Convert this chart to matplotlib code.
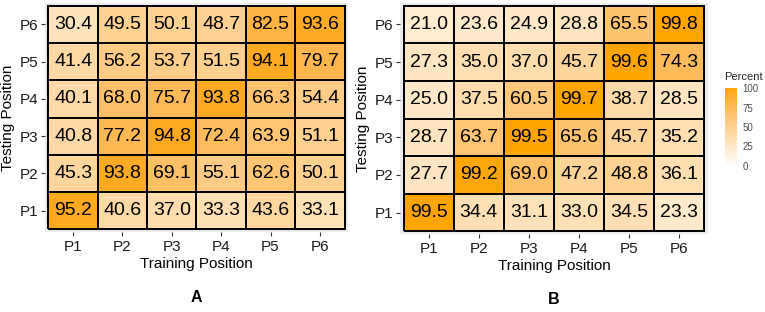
import numpy as np
import matplotlib
matplotlib.use("Agg")
from matplotlib import pyplot as plt
from matplotlib.colors import ListedColormap

plt.rcParams["font.family"] = ["Liberation Sans", "DejaVu Sans"]

positions = ["P1", "P2", "P3", "P4", "P5", "P6"]

# rows = testing position P1..P6, columns = training position P1..P6
acc_a = np.array([
    [95.2, 40.6, 37.0, 33.3, 43.6, 33.1],
    [45.3, 93.8, 69.1, 55.1, 62.6, 50.1],
    [40.8, 77.2, 94.8, 72.4, 63.9, 51.1],
    [40.1, 68.0, 75.7, 93.8, 66.3, 54.4],
    [41.4, 56.2, 53.7, 51.5, 94.1, 79.7],
    [30.4, 49.5, 50.1, 48.7, 82.5, 93.6],
])
acc_b = np.array([
    [99.5, 34.4, 31.1, 33.0, 34.5, 23.3],
    [27.7, 99.2, 69.0, 47.2, 48.8, 36.1],
    [28.7, 63.7, 99.5, 65.6, 45.7, 35.2],
    [25.0, 37.5, 60.5, 99.7, 38.7, 28.5],
    [27.3, 35.0, 37.0, 45.7, 99.6, 74.3],
    [21.0, 23.6, 24.9, 28.8, 65.5, 99.8],
])
cbar_ticks = [0, 25, 50, 75, 100]


# white -> orange gradient interpolated in Lab space, like ggplot does
M = np.array([[0.4124, 0.3576, 0.1805],
              [0.2126, 0.7152, 0.0722],
              [0.0193, 0.1192, 0.9505]])
WP = np.array([0.95047, 1.0, 1.08883])


def to_lab(rgb):
    c = np.where(rgb > 0.04045, ((rgb + 0.055) / 1.055) ** 2.4, rgb / 12.92)
    xyz = M @ c / WP
    f = np.where(xyz > 0.008856, np.cbrt(xyz), 7.787 * xyz + 16 / 116)
    return np.array([116 * f[1] - 16, 500 * (f[0] - f[1]), 200 * (f[1] - f[2])])


def from_lab(lab):
    fy = (lab[0] + 16) / 116
    fx = fy + lab[1] / 500
    fz = fy - lab[2] / 200
    f = np.array([fx, fy, fz])
    xyz = np.where(f ** 3 > 0.008856, f ** 3, (f - 16 / 116) / 7.787) * WP
    c = np.linalg.solve(M, xyz)
    rgb = np.where(c > 0.0031308, 1.055 * np.clip(c, 0, None) ** (1 / 2.4) - 0.055, 12.92 * c)
    return np.clip(rgb, 0, 1)


lo = to_lab(np.array([1.0, 1.0, 1.0]))
hi = to_lab(np.array([1.0, 165 / 255, 0.0]))
cmap = ListedColormap([from_lab(lo + (hi - lo) * t) for t in np.linspace(0, 1, 256)])

fig = plt.figure(figsize=(7.65, 3.12), dpi=100)
W, H = 765, 312


def px_axes(x0, y0, x1, y1):
    return fig.add_axes([x0 / W, 1 - y1 / H, (x1 - x0) / W, (y1 - y0) / H])


def heat(ax, data, letter):
    ax.set_facecolor("#EBEBEB")
    n = len(positions)
    ax.pcolormesh(np.arange(n + 1), np.arange(n + 1), data, cmap=cmap,
                  vmin=0, vmax=100, edgecolors="black", linewidth=1.3)
    for i in range(n):
        for j in range(n):
            ax.text(j + 0.5, i + 0.5, "%.1f" % data[i, j], ha="center",
                    va="center", fontsize=14, color="black")
    pad = 0.07
    ax.set_xlim(-pad, n + pad)
    ax.set_ylim(-pad, n + pad)
    ax.set_xticks(np.arange(n) + 0.5)
    ax.set_yticks(np.arange(n) + 0.5)
    ax.set_xticklabels(positions)
    ax.set_yticklabels(positions)
    ax.tick_params(length=3, width=0.8, color="#333333", labelsize=11,
                   labelcolor="#1a1a1a", pad=2)
    ax.tick_params(axis="x", pad=3)
    for s in ax.spines.values():
        s.set_visible(False)
    ax.set_xlabel("Training Position", fontsize=11, labelpad=2)
    ax.set_ylabel("Testing Position", fontsize=11, labelpad=3)
    ax.text(0.5, -0.285, letter, transform=ax.transAxes, ha="center",
            va="center", fontsize=11.5, fontweight="bold")


ax_a = px_axes(45, 3, 348, 232)
heat(ax_a, acc_a, "A")
ax_b = px_axes(400, 3, 708, 234)
heat(ax_b, acc_b, "B")

cax = px_axes(725, 88, 737, 166)
grad = np.linspace(0, 100, 256).reshape(-1, 1)
cax.imshow(grad, cmap=cmap, aspect="auto", origin="lower", extent=[0, 1, 0, 100])
cax.set_xticks([])
cax.yaxis.tick_right()
cax.set_yticks(cbar_ticks)
cax.tick_params(length=0, labelsize=7, labelcolor="#4D4D4D", pad=4)
for s in cax.spines.values():
    s.set_visible(False)
fig.text(724 / W, 1 - 77 / H, "Percent", fontsize=8, color="#222222",
         ha="left", va="center")

fig.savefig("out.png", dpi=100)
